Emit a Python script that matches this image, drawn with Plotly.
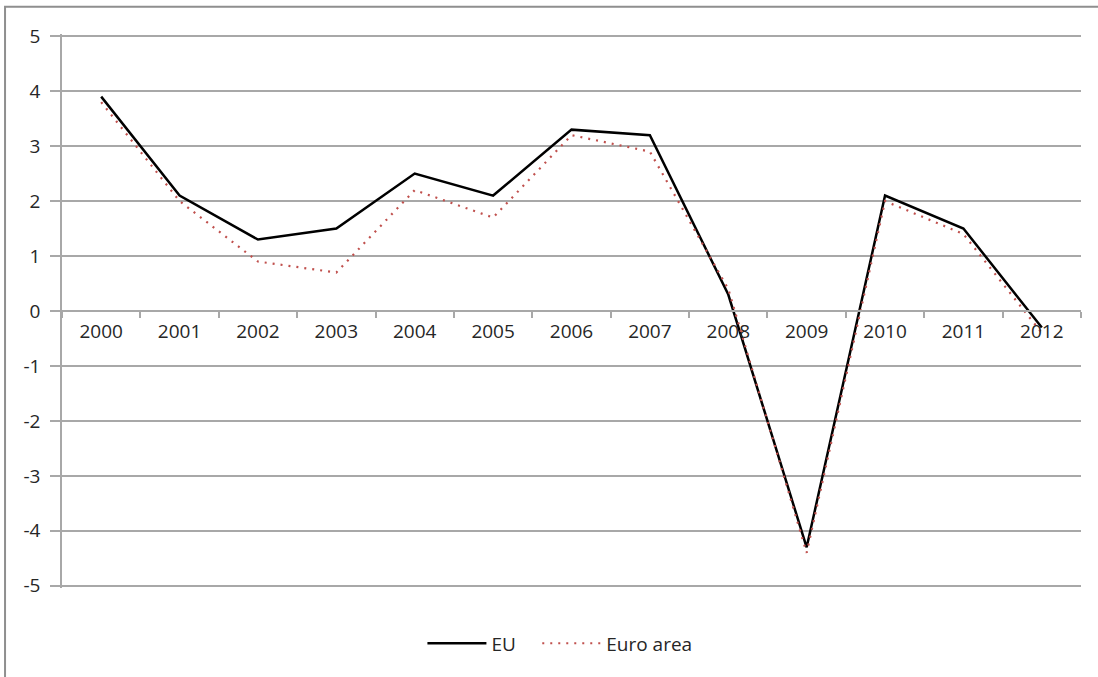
import plotly.graph_objects as go

years = ["2000", "2001", "2002", "2003", "2004", "2005", "2006",
         "2007", "2008", "2009", "2010", "2011", "2012"]
eu = [3.9, 2.1, 1.3, 1.5, 2.5, 2.1, 3.3, 3.2, 0.3, -4.3, 2.1, 1.5, -0.3]
euro_area = [3.8, 2.0, 0.9, 0.7, 2.2, 1.7, 3.2, 2.9, 0.4, -4.4, 2.0, 1.4, -0.4]
y_tick_vals = [5, 4, 3, 2, 1, 0, -1, -2, -3, -4, -5]
y_tick_text = ["5", "4", "3", "2", "1", "0", "-1", "-2", "-3", "-4", "-5"]

FONT = "Open Sans"
GRID = "#a8a8a8"
TEXT = "#262626"

fig = go.Figure()
fig.add_trace(go.Scatter(
    x=years, y=eu, name="EU", mode="lines", legend="legend",
    line=dict(color="#000000", width=2.5),
))
fig.add_trace(go.Scatter(
    x=years, y=euro_area, name="Euro area", mode="lines", legend="legend2",
    line=dict(color="#C0504D", width=2.2, dash="2px,6px"),
))

# outer frame (extends beyond the visible area at right and bottom)
fig.add_shape(type="rect", xref="paper", yref="paper",
              x0=-0.0559, x1=1.06, y0=-0.25, y1=1.0492,
              line=dict(color="#8f8f8f", width=2), fillcolor="rgba(0,0,0,0)",
              layer="above")

legend_common = dict(orientation="h", xanchor="left", y=-0.1, yanchor="middle",
                     font=dict(family=FONT, size=19, color=TEXT),
                     itemwidth=59, bgcolor="rgba(0,0,0,0)")

fig.update_layout(
    width=1098, height=677,
    margin=dict(l=62, r=17, t=33.8, b=88.8),
    paper_bgcolor="white", plot_bgcolor="white",
    font=dict(family=FONT, size=19, color=TEXT),
    showlegend=True,
    legend=dict(x=0.3537, **legend_common),
    legend2=dict(x=0.4664, **legend_common),
    xaxis=dict(
        type="category", range=[-0.5, 12.5],
        anchor="free", position=0.5,
        showgrid=False, zeroline=False,
        showline=True, linecolor=GRID, linewidth=1.5,
        ticks="outside", tickson="boundaries", ticklen=6,
        tickcolor=GRID, tickwidth=1.5, ticklabelstandoff=3,
        tickfont=dict(family=FONT, size=19, color=TEXT),
    ),
    yaxis=dict(
        range=[-5.04, 5.04], tickvals=y_tick_vals, ticktext=y_tick_text,
        showgrid=True, gridcolor=GRID, gridwidth=1.5,
        zeroline=False,
        showline=True, linecolor=GRID, linewidth=1.5,
        ticks="outside", ticklen=10, tickcolor=GRID, tickwidth=1.5,
        ticklabelstandoff=6,
        tickfont=dict(family=FONT, size=19, color=TEXT),
    ),
)

fig.write_html("out.html", config={"displayModeBar": False},
               post_script="document.body.style.margin='0';")
